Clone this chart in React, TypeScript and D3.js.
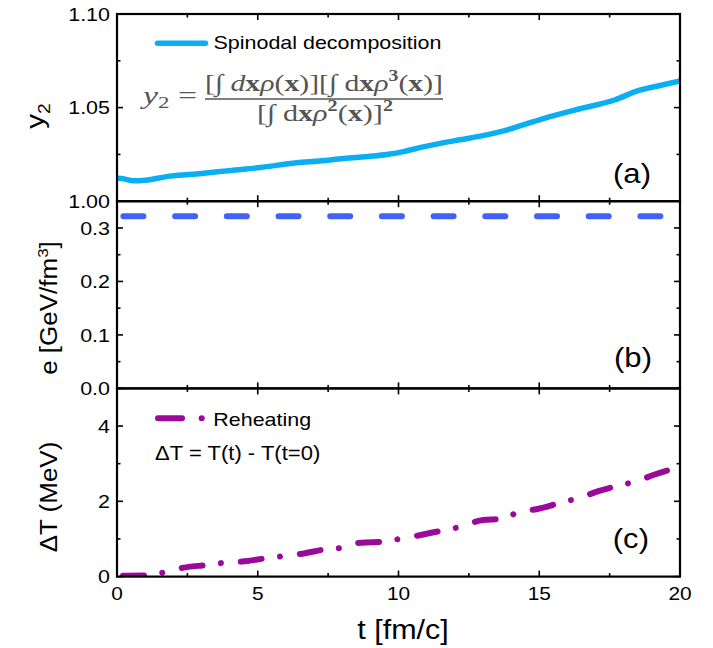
import React from "react";
import * as d3 from "d3";

// ---------- data ----------
const tSpinodal = [0, 0.17, 0.58, 1.0, 1.88, 3.0, 3.9, 5.08, 6.38, 7.2, 8.04, 9.1, 9.7, 10.17, 10.88, 12.18, 13.0, 13.7, 15.0, 16.45, 17.7, 18.46, 19.29, 20];
const y2Spinodal = [1.0122, 1.0121, 1.0109, 1.0112, 1.0134, 1.0148, 1.0162, 1.018, 1.0205, 1.0215, 1.0228, 1.0241, 1.0252, 1.0265, 1.029, 1.0328, 1.035, 1.0374, 1.0435, 1.0494, 1.0542, 1.0588, 1.0618, 1.0642];

const tEnergy = [0, 20];
const eEnergy = [0.322, 0.322];

const tReheat = [0, 1.1, 1.65, 2.24, 3.19, 3.84, 4.43, 5.32, 5.97, 6.5, 7.45, 8.06, 8.63, 9.52, 10.15, 10.76, 11.71, 12.3, 12.84, 13.72, 14.3, 14.9, 15.8, 16.45, 17.1, 18.0, 18.48, 19.05, 20];
const dTReheat = [0.02, 0.03, 0.11, 0.22, 0.31, 0.37, 0.4, 0.49, 0.55, 0.6, 0.73, 0.77, 0.9, 0.93, 1.02, 1.1, 1.25, 1.34, 1.48, 1.55, 1.72, 1.79, 1.97, 2.1, 2.27, 2.45, 2.54, 2.7, 2.92];

const xMajorTicks = [0, 5, 10, 15, 20];
const xMinorTicks = [2.5, 7.5, 12.5, 17.5];
const xTickLabels = ["0", "5", "10", "15", "20"];

const aMajorTicks = [1.0, 1.05, 1.1];
const aMinorTicks = [1.025, 1.075];
const aTickLabels = ["1.00", "1.05", "1.10"];

const bMajorTicks = [0, 0.1, 0.2, 0.3];
const bMinorTicks = [0.05, 0.15, 0.25];
const bTickLabels = ["0.0", "0.1", "0.2", "0.3"];

const cMajorTicks = [0, 2, 4];
const cMinorTicks = [1, 3];
const cTickLabels = ["0", "2", "4"];

// ---------- layout ----------
const W = 713, H = 648;
const X0 = 117, X1 = 680;
const SANS = "'Liberation Sans', Arial, sans-serif";
const SERIF = "'Liberation Serif', 'DejaVu Serif', serif";
const SX = 1.13;
const BLUE = "#0AAFF1";
const DBLUE = "#4262F5";
const PURPLE = "#990A99";
const GRAY = "#555555";

const x = d3.scaleLinear().domain([0, 20]).range([X0, X1]);

type Panel = {
  id: string; top: number; bottom: number; domain: [number, number];
  major: number[]; minor: number[]; labels: string[]; label: string;
  labelX: number; labelY: number;
};

const panels: Panel[] = [
  { id: "a", top: 14, bottom: 201.2, domain: [1.0, 1.1], major: aMajorTicks, minor: aMinorTicks, labels: aTickLabels, label: "(a)", labelX: 651, labelY: 183 },
  { id: "b", top: 201.2, bottom: 388.4, domain: [0, 0.35], major: bMajorTicks, minor: bMinorTicks, labels: bTickLabels, label: "(b)", labelX: 652, labelY: 367 },
  { id: "c", top: 388.4, bottom: 576.6, domain: [0, 5], major: cMajorTicks, minor: cMinorTicks, labels: cTickLabels, label: "(c)", labelX: 649, labelY: 548 },
];

const yScale = (p: Panel) => d3.scaleLinear().domain(p.domain).range([p.bottom, p.top]);

function T(props: { x: number; y: number; size: number; anchor?: string; rotate?: number; sx?: number; fill?: string; children: React.ReactNode }) {
  const { x, y, size, anchor = "start", rotate = 0, sx = SX, fill = "#000", children } = props;
  return (
    <text
      transform={`translate(${x},${y}) rotate(${rotate}) scale(${sx},1)`}
      fontFamily={SANS}
      fontSize={size}
      textAnchor={anchor}
      fill={fill}
    >
      {children}
    </text>
  );
}

export default function App() {
  const ya = yScale(panels[0]);
  const yb = yScale(panels[1]);
  const yc = yScale(panels[2]);

  const lineA = d3.line<number>().x((_, i) => x(tSpinodal[i])).y((d) => ya(d)).curve(d3.curveMonotoneX)(y2Spinodal) || "";
  const lineB = d3.line<number>().x((_, i) => x(tEnergy[i])).y((d) => yb(d))(eEnergy) || "";
  const lineC = d3.line<number>().x((_, i) => x(tReheat[i])).y((d) => yc(d)).curve(d3.curveMonotoneX)(dTReheat) || "";

  const tickStroke = { stroke: "#000", strokeWidth: 1.6 };

  return (
    <svg width={W} height={H} style={{ position: "absolute", left: 0, top: 0, background: "#fff" }}>
      <defs>
        {panels.map((p) => (
          <clipPath id={`clip-${p.id}`} key={p.id}>
            <rect x={X0} y={p.top} width={X1 - X0} height={p.bottom - p.top} />
          </clipPath>
        ))}
      </defs>

      {/* data lines */}
      <g clipPath="url(#clip-a)">
        <path d={lineA} fill="none" stroke={BLUE} strokeWidth={5.5} strokeLinecap="round" strokeLinejoin="round" />
      </g>
      <g clipPath="url(#clip-b)">
        <path d={lineB} fill="none" stroke={DBLUE} strokeWidth={6} strokeLinecap="round" strokeDasharray="20 31.7" strokeDashoffset={45.3} />
      </g>
      <g clipPath="url(#clip-c)">
        <path d={lineC} fill="none" stroke={PURPLE} strokeWidth={6} strokeLinecap="round" strokeLinejoin="round" strokeDasharray="21 18.5 0.01 20" strokeDashoffset={53.5} />
      </g>

      {/* frames and ticks */}
      {panels.map((p) => {
        const y = yScale(p);
        return (
          <g key={p.id}>
            <rect x={X0} y={p.top} width={X1 - X0} height={p.bottom - p.top} fill="none" stroke="#000" strokeWidth={2.2} />
            {p.major.map((v) => (
              <g key={`M${v}`}>
                <line x1={X0} x2={X0 + 6} y1={y(v)} y2={y(v)} {...tickStroke} />
                <line x1={X1} x2={X1 - 6} y1={y(v)} y2={y(v)} {...tickStroke} />
              </g>
            ))}
            {p.minor.map((v) => (
              <g key={`m${v}`}>
                <line x1={X0} x2={X0 + 3.5} y1={y(v)} y2={y(v)} {...tickStroke} />
                <line x1={X1} x2={X1 - 3.5} y1={y(v)} y2={y(v)} {...tickStroke} />
              </g>
            ))}
            {xMajorTicks.map((v) => (
              <g key={`xM${v}`}>
                <line x1={x(v)} x2={x(v)} y1={p.bottom} y2={p.bottom - 6} {...tickStroke} />
                <line x1={x(v)} x2={x(v)} y1={p.top} y2={p.top + 6} {...tickStroke} />
              </g>
            ))}
            {xMinorTicks.map((v) => (
              <g key={`xm${v}`}>
                <line x1={x(v)} x2={x(v)} y1={p.bottom} y2={p.bottom - 3.5} {...tickStroke} />
                <line x1={x(v)} x2={x(v)} y1={p.top} y2={p.top + 3.5} {...tickStroke} />
              </g>
            ))}
            {p.major.map((v, i) => (
              <T key={`l${v}`} x={110} y={y(v) + 6.7} size={19} anchor="end">{p.labels[i]}</T>
            ))}
            <T x={p.labelX} y={p.labelY} size={27.5} anchor="end">{p.label}</T>
          </g>
        );
      })}

      {/* x tick labels */}
      {xMajorTicks.map((v, i) => (
        <T key={`xl${v}`} x={x(v)} y={600} size={18.5} anchor="middle">{xTickLabels[i]}</T>
      ))}

      {/* axis titles */}
      <T x={403} y={639} size={27} anchor="middle">t [fm/c]</T>
      <T x={44} y={116} size={26} anchor="middle" rotate={-90}>
        <tspan>y</tspan>
        <tspan fontSize={17} dy={6}>2</tspan>
      </T>
      <T x={57} y={308} size={23} anchor="middle" rotate={-90}>
        <tspan>e [GeV/fm</tspan>
        <tspan fontSize={15} dy={-9}>3</tspan>
        <tspan dy={9}>]</tspan>
      </T>
      <T x={57} y={497} size={23} anchor="middle" rotate={-90}>ΔT (MeV)</T>

      {/* legend (a) */}
      <line x1={157.5} x2={205.5} y1={43.3} y2={43.3} stroke={BLUE} strokeWidth={5.5} strokeLinecap="round" />
      <T x={213.5} y={49.3} size={19}>Spinodal decomposition</T>

      {/* formula */}
      <g fill={GRAY} fontFamily={SERIF}>
        <text x={143} y={104} fontSize={25} textLength={54} lengthAdjust="spacingAndGlyphs">
          <tspan fontStyle="italic">y</tspan>
          <tspan fontSize={17} dy={4}>2</tspan>
          <tspan dy={-4}>{" ="}</tspan>
        </text>
        <text x={205} y={91} fontSize={24} textLength={238} lengthAdjust="spacingAndGlyphs">
          <tspan>{"[∫ "}</tspan>
          <tspan fontStyle="italic">d</tspan>
          <tspan fontWeight="bold">x</tspan>
          <tspan fontStyle="italic">ρ</tspan>
          <tspan>(</tspan>
          <tspan fontWeight="bold">x</tspan>
          <tspan>{")][∫ d"}</tspan>
          <tspan fontWeight="bold">x</tspan>
          <tspan fontStyle="italic">ρ</tspan>
          <tspan fontWeight="bold" fontSize={16} dy={-10}>3</tspan>
          <tspan dy={10}>(</tspan>
          <tspan fontWeight="bold">x</tspan>
          <tspan>{")]"}</tspan>
        </text>
        <line x1={205} x2={443} y1={99} y2={99} stroke={GRAY} strokeWidth={1.3} />
        <text x={257} y={121} fontSize={24} textLength={136} lengthAdjust="spacingAndGlyphs">
          <tspan>{"[∫ d"}</tspan>
          <tspan fontWeight="bold">x</tspan>
          <tspan fontStyle="italic">ρ</tspan>
          <tspan fontWeight="bold" fontSize={16} dy={-10}>2</tspan>
          <tspan dy={10}>(</tspan>
          <tspan fontWeight="bold">x</tspan>
          <tspan>{")]"}</tspan>
          <tspan fontWeight="bold" fontSize={16} dy={-10}>2</tspan>
        </text>
      </g>

      {/* legend (c) */}
      <line x1={158} x2={182} y1={418.3} y2={418.3} stroke={PURPLE} strokeWidth={6} strokeLinecap="round" />
      <circle cx={201.7} cy={418.3} r={3} fill={PURPLE} />
      <T x={213.3} y={425.7} size={19}>Reheating</T>
      <T x={155} y={460} size={19.5}>ΔT = T(t) - T(t=0)</T>
    </svg>
  );
}
